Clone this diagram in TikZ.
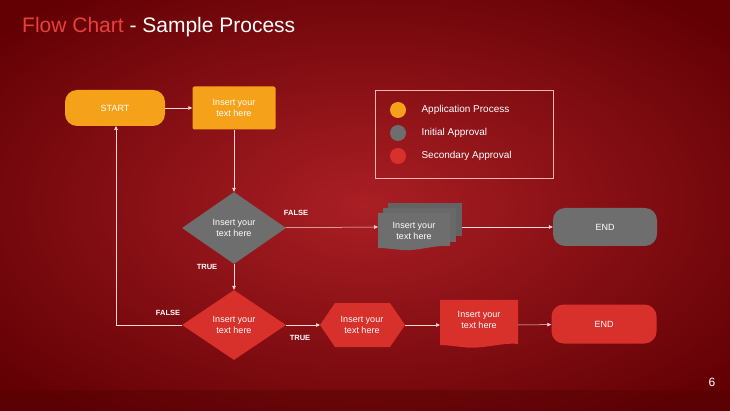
\documentclass[tikz,border=0pt]{standalone}
\usepackage{fontspec}
\setmainfont{Liberation Sans}
\usetikzlibrary{shapes.geometric,arrows.meta}
\definecolor{orng}{HTML}{F5A21A}
\definecolor{gry}{HTML}{6E6E6E}
\definecolor{rd}{HTML}{D8302A}
\definecolor{bgc}{HTML}{A0060C}
\definecolor{bgd}{HTML}{620004}
\definecolor{ttl}{HTML}{E8403A}
\begin{document}
\begin{tikzpicture}[x=1pt,y=-1pt,
  txt/.style={text=white,font=\fontsize{9}{11}\selectfont,align=center},
  term/.style={txt,rounded corners=12pt,minimum width=#1,draw=none},
  lbl/.style={text=white,font=\bfseries\fontsize{7.5}{8}\selectfont},
  con/.style={draw=white!85!red,line width=0.5pt,-{Triangle[length=4pt,width=3.5pt]}}]
\useasboundingbox (0,0) rectangle (730,411);
\shade[inner color=bgc!90!white, outer color=bgd] (-120,-60) rectangle (850,471);
\fill[bgd!80!black,opacity=0.35] (0,390) rectangle (730,411);
% title
\node[anchor=west,font=\fontsize{21}{23}\selectfont,inner sep=0] (title) at (22,27) {\textcolor{ttl}{Flow Chart}\textcolor{white}{\ - Sample Process}};
\node[text=white,font=\fontsize{12}{12}\selectfont] (pg) at (712,382) {6};
% nodes
\node[term=100pt,fill=orng,minimum height=36pt] (start) at (115,108) {START};
\node[txt,fill=orng,rounded corners=2pt,minimum width=83pt,minimum height=43pt] (b1) at (234,108) {Insert your\\text here};
\node[txt,diamond,fill=gry,minimum width=104pt,minimum height=72pt,inner sep=0,aspect=1.45] (d1) at (234,228) {Insert your\\text here};
% stacked documents
\fill[gry!90!black] (388,203) rectangle (462,236);
\fill[gry!95!black] (383,208) rectangle (456,242);
\path[fill=gry] (378,213) -- (450,213) -- (450,246) .. controls (432,245) and (420,251) .. (402,250) .. controls (392,249) and (385,248) .. (378,248) -- cycle;
\node[txt] (doc1) at (414,231) {Insert your\\text here};
\node[term=104pt,fill=gry,minimum height=38pt] (end1) at (605,227) {END};
\node[txt,diamond,fill=rd,minimum width=104pt,minimum height=70pt,inner sep=0,aspect=1.45] (d2) at (234,325) {Insert your\\text here};
\path[fill=rd] (320,325) -- (335,303) -- (390,303) -- (405,325) -- (390,347) -- (335,347) -- cycle;
\node[txt] (hx) at (362,325) {Insert your\\text here};
\path[fill=rd] (440,300) -- (518,300) -- (518,344) .. controls (502,342) and (482,350) .. (462,347) .. controls (452,346) and (446,345) .. (440,345) -- cycle;
\node[txt] (doc2) at (479,320) {Insert your\\text here};
\node[term=105pt,fill=rd,minimum height=39pt] (end2) at (604,324) {END};
\coordinate (hxL) at (320,325);
\coordinate (hxR) at (405,325);
\coordinate (doc1L) at (378,227);
\coordinate (doc1R) at (462,227);
\coordinate (doc2L) at (440,325);
\coordinate (doc2R) at (518,325);
\coordinate (corner) at (116,325);
\coordinate (startB) at (116,126);
% connectors
\draw[con] (start) -- (b1);
\draw[con] (b1) -- (d1);
\draw[con] (d1) -- (doc1L);
\draw[con] (doc1R) -- (end1);
\draw[con] (d1) -- (d2);
\draw[con] (d2) -- (hxL);
\draw[con] (hxR) -- (doc2L);
\draw[con] (doc2R) -- (end2);
\draw[con] (d2.west) -- (corner) -- (startB);
% labels
\node[lbl] (f1) at (296,213) {FALSE};
\node[lbl] (t1) at (207,267) {TRUE};
\node[lbl] (f2) at (168,313) {FALSE};
\node[lbl] (t2) at (300,338) {TRUE};
% legend
\node[draw=white!70!red,line width=0.5pt,minimum width=178pt,minimum height=88pt] (leg) at (464,134) {};
\fill[orng] (398,110) circle (8);
\fill[gry] (398,133) circle (8);
\fill[rd] (398,156) circle (8);
\node[anchor=west,text=white,font=\fontsize{10}{11}\selectfont] (l1) at (418,110) {Application Process};
\node[anchor=west,text=white,font=\fontsize{10}{11}\selectfont] (l2) at (418,133) {Initial Approval};
\node[anchor=west,text=white,font=\fontsize{10}{11}\selectfont] (l3) at (418,156) {Secondary Approval};
\end{tikzpicture}
\end{document}
